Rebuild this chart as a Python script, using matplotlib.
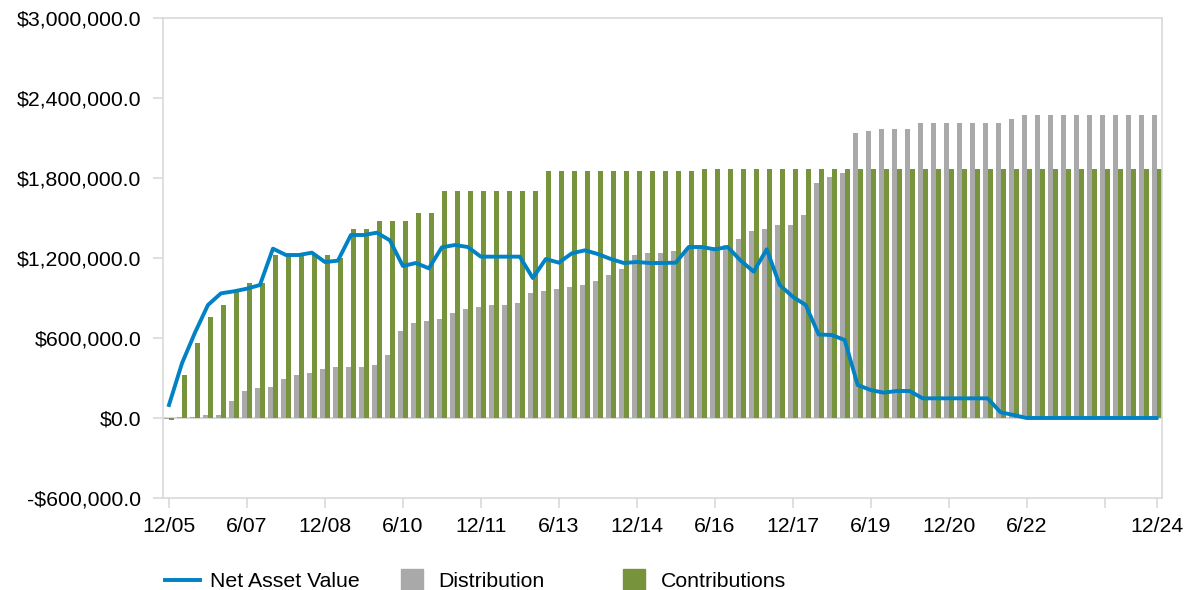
import numpy as np
import matplotlib.pyplot as plt
from matplotlib.lines import Line2D

# quarterly values, 12/05 through 12/24
nav = [97500, 410000, 640000, 847500, 935000, 950000, 970000, 997500, 1270000, 1222500,
       1222500, 1240000, 1170000, 1180000, 1372500, 1372500, 1390000, 1332500, 1140000, 1162500,
       1122500, 1280000, 1297500, 1282500, 1210000, 1210000, 1210000, 1210000, 1050000, 1192500,
       1165000, 1235000, 1257500, 1230000, 1192500, 1162500, 1170000, 1162500, 1162500, 1165000,
       1282500, 1282500, 1265000, 1282500, 1180000, 1097500, 1265000, 997500, 910000, 847500,
       626000, 622500, 585000, 247500, 210000, 190000, 202500, 202500, 147500, 147500,
       147500, 147500, 147500, 147500, 42500, 22500, 0, 0, 0, 0,
       0, 0, 0, 0, 0, 0, 0]
distribution = [-7500, 10000, 10000, 25000, 25000, 130000, 205000, 222500, 235000, 295000,
                325000, 340000, 367500, 382500, 382500, 382500, 397500, 472500, 652500, 712500,
                727500, 742500, 787500, 817500, 832500, 847500, 847500, 862500, 937500, 952500,
                967500, 982500, 997500, 1027500, 1072500, 1117500, 1222500, 1237500, 1237500, 1252500,
                1267500, 1275000, 1282500, 1297500, 1342500, 1402500, 1417500, 1447500, 1447500, 1522500,
                1762500, 1807500, 1837500, 2137500, 2152500, 2167500, 2167500, 2167500, 2212500, 2212500,
                2212500, 2212500, 2212500, 2212500, 2212500, 2242500, 2272500, 2272500, 2272500, 2272500,
                2272500, 2272500, 2272500, 2272500, 2272500, 2272500, 2272500]
contributions = [-15000, 322500, 565000, 760000, 847500, 942500, 1012500, 1012500, 1222500, 1222500,
                 1222500, 1222500, 1222500, 1200000, 1417500, 1417500, 1477500, 1477500, 1477500, 1537500,
                 1537500, 1702500, 1702500, 1702500, 1702500, 1702500, 1702500, 1702500, 1702500, 1852500,
                 1852500, 1852500, 1852500, 1852500, 1852500, 1852500, 1852500, 1852500, 1852500, 1852500,
                 1852500, 1867500, 1867500, 1867500, 1867500, 1867500, 1867500, 1867500, 1867500, 1867500,
                 1867500, 1867500, 1867500, 1867500, 1867500, 1867500, 1867500, 1867500, 1867500, 1867500,
                 1867500, 1867500, 1867500, 1867500, 1867500, 1867500, 1867500, 1867500, 1867500, 1867500,
                 1867500, 1867500, 1867500, 1867500, 1867500, 1867500, 1867500]
tick_pos = [0, 6, 12, 18, 24, 30, 36, 42, 48, 54, 60, 66, 72, 76]
tick_labels = ["12/05", "6/07", "12/08", "6/10", "12/11", "6/13", "12/14", "6/16",
               "12/17", "6/19", "12/20", "6/22", "", "12/24"]

plt.rcParams['font.family'] = ['Liberation Sans', 'DejaVu Sans']
fs = 15.3
frame = '#D9D9D9'
gray = '#A9A9A9'
green = '#77933C'
blue = '#0082C4'

fig = plt.figure(figsize=(11.86, 5.9), dpi=100)
ax = fig.add_axes([163 / 1186, 1 - 498 / 590, 999 / 1186, 480 / 590])

x = np.arange(len(nav))
w = 0.385
ax.bar(x - w / 2, distribution, width=w, color=gray, zorder=2)
ax.bar(x + w / 2, contributions, width=w, color=green, zorder=2)
ax.axhline(0, color=frame, lw=1.5, zorder=1)
ax.plot(x, nav, color=blue, lw=2.8, zorder=3, solid_joinstyle='round')

ax.set_xlim(-0.46, 76.42)
ax.set_ylim(-600000, 3000000)
ax.set_yticks(np.arange(-600000, 3000001, 600000))
ax.yaxis.set_major_formatter(lambda v, p: ('-' if v < 0 else '') + '${:,.1f}'.format(abs(v)))
ax.set_xticks(tick_pos)
ax.set_xticklabels(tick_labels)

for s in ax.spines.values():
    s.set_color(frame)
    s.set_linewidth(1.2)
ax.tick_params(axis='y', length=7, width=1.2, color=frame, pad=8.5, labelsize=fs)
ax.tick_params(axis='x', length=7, width=1.2, color=frame, pad=6.5, labelsize=fs)

# legend entries spaced evenly along the bottom
entries = [
    (Line2D([], [], color=blue, lw=2.8), "Net Asset Value", 165),
    (Line2D([], [], marker='s', ls='None', markersize=16.5, color=gray), "Distribution", 394),
    (Line2D([], [], marker='s', ls='None', markersize=16.5, color=green), "Contributions", 616),
]
for h, lab, px in entries:
    fig.legend([h], [lab], loc='center left', bbox_to_anchor=(px / 1186, 1 - 581.5 / 590),
               frameon=False, fontsize=fs, borderpad=0, borderaxespad=0,
               handlelength=1.65, handletextpad=0.45)

fig.savefig('out.png', dpi=100)
